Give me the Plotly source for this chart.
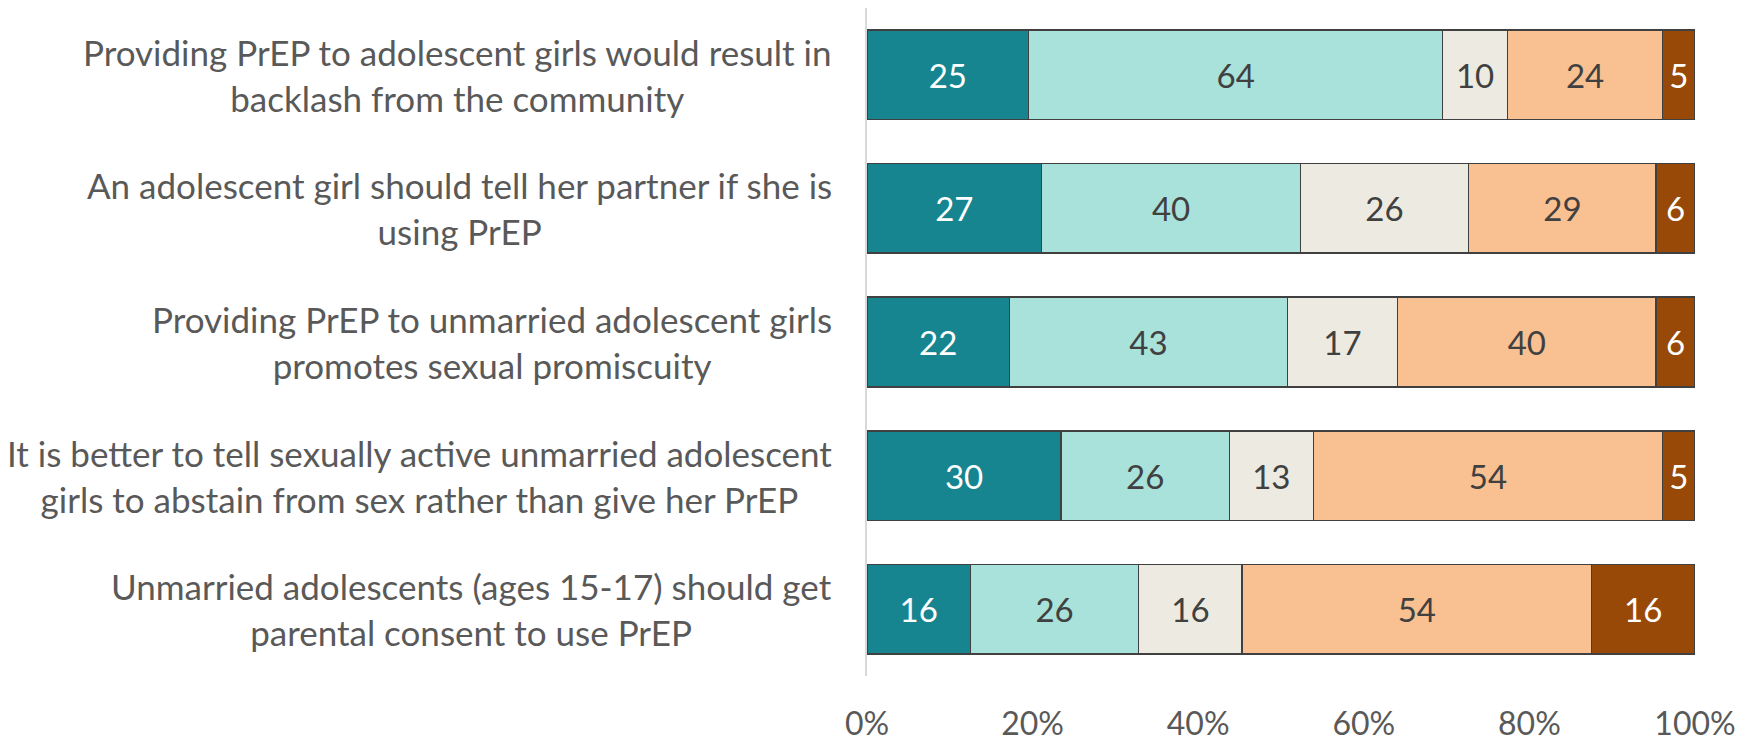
import plotly.graph_objects as go

statements = [
    "Providing PrEP to adolescent girls would result in<br>backlash from the community",
    "An adolescent girl should tell her partner if she is<br>using PrEP",
    "Providing PrEP to unmarried adolescent girls<br>promotes sexual promiscuity",
    "It is better to tell sexually active unmarried adolescent<br>girls to abstain from sex rather than give her PrEP",
    "Unmarried adolescents (ages 15-17) should get<br>parental consent to use PrEP",
]
series_names = ["Strongly agree", "Agree", "Neutral", "Disagree", "Strongly disagree"]
strongly_agree = [25, 27, 22, 30, 16]
agree = [64, 40, 43, 26, 26]
neutral = [10, 26, 17, 13, 16]
disagree = [24, 29, 40, 54, 54]
strongly_disagree = [5, 6, 6, 5, 16]
x_ticks = [0, 20, 40, 60, 80, 100]
x_tick_labels = ["0%", "20%", "40%", "60%", "80%", "100%"]

series_values = [strongly_agree, agree, neutral, disagree, strongly_disagree]
colors = ["#17858F", "#A8E2DA", "#EDEBE1", "#F9C092", "#984807"]
text_colors = ["#FFFFFF", "#404040", "#404040", "#404040", "#FFFFFF"]

FONT = "Lato"
fig = go.Figure()
for name, vals, col, tcol in zip(series_names, series_values, colors, text_colors):
    fig.add_trace(go.Bar(
        y=statements, x=vals, name=name, orientation="h",
        marker=dict(color=col, line=dict(color="#404040", width=1.5)),
        text=vals, texttemplate="%{text}", textposition="inside",
        insidetextanchor="middle", textangle=0, constraintext="none",
        textfont=dict(family=FONT, size=33, color=tcol),
        hoverinfo="skip",
    ))

for s in statements:
    fig.add_annotation(
        x=0, xref="paper", y=s, yref="y", text=s, showarrow=False,
        xanchor="right", yanchor="middle", align="center", xshift=-33,
        font=dict(family=FONT, size=35, color="#595959"),
    )

fig.update_layout(
    barmode="stack", barnorm="percent", bargap=0.33,
    width=1750, height=734,
    margin=dict(l=859, r=63, t=0, b=64),
    paper_bgcolor="white", plot_bgcolor="white",
    showlegend=False,
    font=dict(family=FONT, color="#595959"),
    xaxis=dict(range=[0, 100], tickvals=x_ticks, ticktext=x_tick_labels,
               showgrid=False, zeroline=False, showline=False,
               ticks="outside", ticklen=20, tickcolor="rgba(0,0,0,0)",
               tickfont=dict(family=FONT, size=32, color="#595959")),
    yaxis=dict(autorange="reversed", showticklabels=False, showgrid=False,
               zeroline=False, showline=True, linecolor="#D9D9D9", linewidth=1.5),
)

fig.write_html("out.html")
